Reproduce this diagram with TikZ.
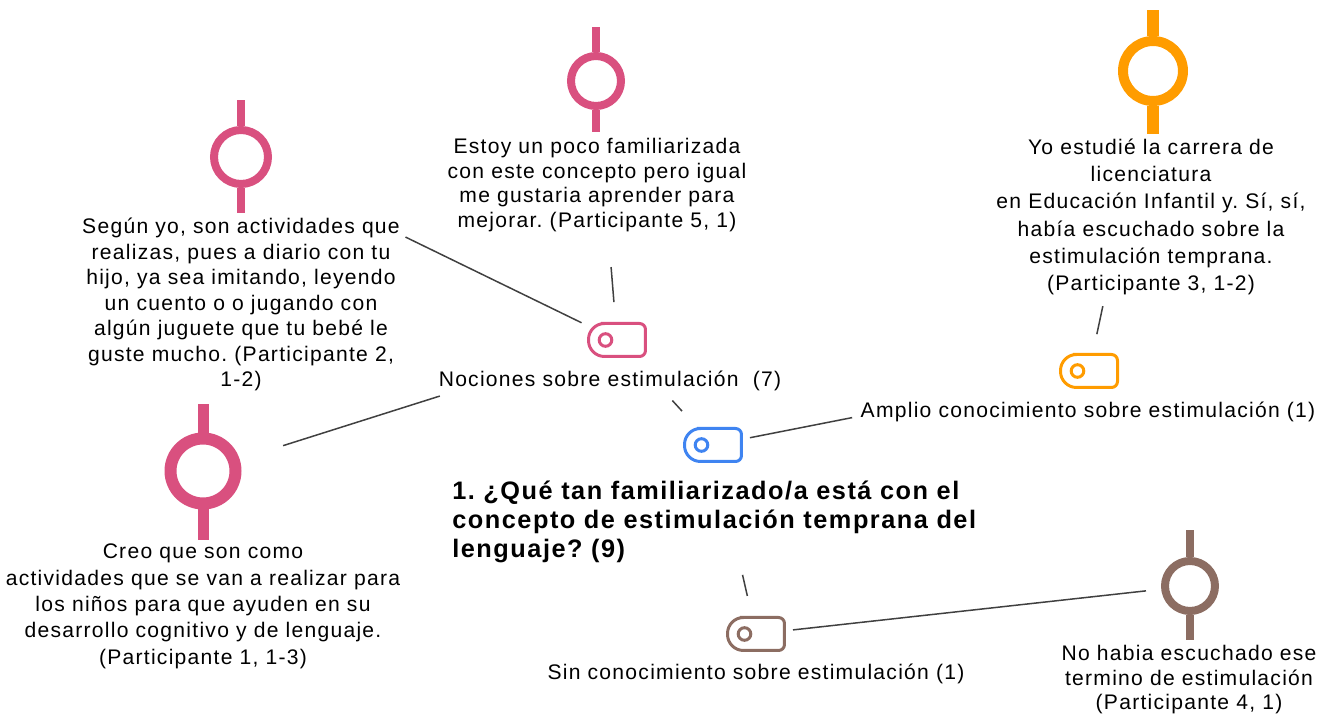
\documentclass[tikz,border=0pt]{standalone}
\usepackage{fontspec}
\setmainfont{Liberation Sans}[LetterSpace=6]
\usepackage{xcolor}
\usepackage{tikz}
\usetikzlibrary{positioning}
\frenchspacing

\definecolor{quotepink}{HTML}{D9507F}
\definecolor{codeorange}{HTML}{FF9C00}
\definecolor{codeblue}{HTML}{3F84F1}
\definecolor{codebrown}{HTML}{8C6D62}
\definecolor{linkgray}{HTML}{404040}

% outline of a code icon: round on the left, small corners on the right
\newcommand{\codeoutline}[2]{%
  \draw[codeline, #2, rounded corners=1.2mm] (#1.north) -- (#1.north east) -- (#1.south east) -- (#1.south)
    [rounded corners=3.2mm] -- (#1.south west) -- (#1.north west) -- cycle;
  \draw[codeline, #2] ([xshift=3.4mm]#1.west) circle (6.3);
}

\begin{document}
\begin{tikzpicture}[x=0.02cm, y=-0.02cm,
    quote/.style={circle, draw, inner sep=0pt},
    stem/.style={line cap=butt},
    codebox/.style={rectangle, minimum width=11.4mm, minimum height=6.6mm, inner sep=0pt, outer sep=0pt},
    codeline/.style={line width=0.6mm},
    quotetext/.style={align=center, inner sep=0pt, font=\fontsize{12}{14.5}\selectfont},
    codelabel/.style={inner sep=0pt, font=\fontsize{12}{14}\selectfont},
    link/.style={draw=linkgray, line width=0.3mm}]
  \useasboundingbox (0,0) rectangle (1330,715);

  % Quotes
  \node[quote, draw=quotepink, line width=1.6mm, minimum size=10mm] (q1) at (596,81) {};
  \draw[stem, quotepink, line width=1.6mm] (q1.north) -- ++(0,-25) (q1.south) -- ++(0,22);
  \node[quotetext, font=\fontsize{12}{14}\selectfont] (t1) at (597,185.25) {Estoy un poco familiarizada\\con este concepto pero igual\\me gustaria aprender para\\mejorar. (Participante 5, 1)};

  \node[quote, draw=quotepink, line width=1.6mm, minimum size=10.8mm] (q2) at (241,157) {};
  \draw[stem, quotepink, line width=1.6mm] (q2.north) -- ++(0,-26) (q2.south) -- ++(0,25);
  \node[quotetext] (t2) at (241,304.75) {Según yo, son actividades que\\realizas, pues a diario con tu\\hijo, ya sea imitando, leyendo\\un cuento o o jugando con\\algún juguete que tu bebé le\\guste mucho. (Participante 2,\\1-2)};

  \node[quote, draw=codeorange, line width=2mm, minimum size=12mm] (q3) at (1153,71) {};
  \draw[stem, codeorange, line width=2.4mm] (q3.north) -- ++(0,-26) (q3.south) -- ++(0,28);
  \node[quotetext, font=\fontsize{12}{15.5}\selectfont] (t3) at (1151,217) {Yo estudié la carrera de\\licenciatura\\en Educación Infantil y. Sí, sí,\\había escuchado sobre la\\estimulación temprana.\\(Participante 3, 1-2)};

  \node[quote, draw=quotepink, line width=2.4mm, minimum size=13mm] (q4) at (203,471) {};
  \draw[stem, quotepink, line width=2.2mm] (q4.north) -- ++(0,-28.5) (q4.south) -- ++(0,30.5);
  \node[quotetext, font=\fontsize{12}{15}\selectfont] (t4) at (203,606.25) {Creo que son como\\actividades que se van a realizar para\\los niños para que ayuden en su\\desarrollo cognitivo y de lenguaje.\\(Participante 1, 1-3)};

  \node[quote, draw=codebrown, line width=1.6mm, minimum size=10mm] (q5) at (1190,586) {};
  \draw[stem, codebrown, line width=1.6mm] (q5.north) -- ++(0,-27) (q5.south) -- ++(0,25);
  \node[quotetext, font=\fontsize{12}{13.9}\selectfont] (t5) at (1189,679.75) {No habia escuchado ese\\termino de estimulación\\(Participante 4, 1)};

  % Codes
  \node[codebox] (c1) at (617,340) {};
  \codeoutline{c1}{quotepink}
  \node[codelabel] (n1) at (610,381.25) {Nociones sobre estimulación~ (7)};

  \node[codebox] (c2) at (713,445) {};
  \codeoutline{c2}{codeblue}
  \node[inner sep=0pt, align=left, anchor=west, font=\bfseries\fontsize{14.4}{16.7}\selectfont] (qq) at (452,521.75)
    {1. ¿Qué tan familiarizado/a está con el\\concepto de estimulación temprana del\\lenguaje? (9)};

  \node[codebox] (c3) at (1089,371) {};
  \codeoutline{c3}{codeorange}
  \node[codelabel] (n2) at (1088,412.25) {Amplio conocimiento sobre estimulación (1)};

  \node[codebox] (c4) at (756,634) {};
  \codeoutline{c4}{codebrown}
  \node[codelabel] (n3) at (756,674.25) {Sin conocimiento sobre estimulación (1)};

  % Links
  \draw[link, shorten <=30.4mm, shorten >=1.54mm] (q2) -- (c1);
  \draw[link, shorten <=9.1mm, shorten >=31.2mm] (q4) -- (c1);
  \draw[link, shorten <=11.94mm, shorten >=4.72mm] (c1) -- (c2);
  \draw[link, shorten <=1.72mm, shorten >=42.48mm] (c2) -- (c3);
  \draw[link, shorten <=31.54mm, shorten >=4.3mm] (q1) -- (c1);
  \draw[link, shorten <=41.1mm, shorten >=4.16mm] (q3) -- (c3);
  \draw[link, shorten <=23.26mm, shorten >=4.42mm] (c2) -- (c4);
  \draw[link, shorten <=1.71mm, shorten >=3.06mm] (c4) -- (q5);
\end{tikzpicture}
\end{document}
